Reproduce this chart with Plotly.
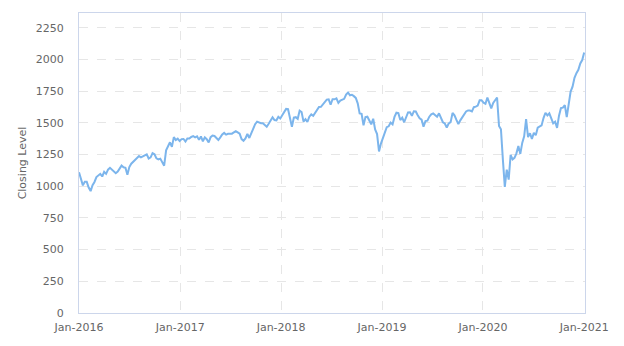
import pandas as pd
import plotly.graph_objects as go

# Weekly closing levels
values_2016 = [1110, 1046, 1007, 1035, 1035, 990, 962, 1008, 1034, 1073, 1083, 1098, 1077,
               1114, 1098, 1131, 1145, 1131, 1114, 1103, 1116, 1144, 1163, 1150, 1146, 1090,
               1151, 1178, 1194, 1208, 1219, 1238, 1228, 1238, 1242, 1252, 1219, 1228, 1261,
               1252, 1220, 1212, 1218, 1192, 1162, 1283, 1311, 1347, 1311, 1388, 1365, 1376, 1357]
values_2017 = [1372, 1373, 1353, 1377, 1377, 1389, 1395, 1386, 1394, 1366, 1393, 1355, 1386,
               1371, 1345, 1387, 1400, 1397, 1382, 1365, 1386, 1409, 1421, 1407, 1414, 1415,
               1415, 1425, 1435, 1425, 1415, 1372, 1359, 1377, 1413, 1381, 1421, 1451, 1490,
               1510, 1502, 1498, 1498, 1486, 1470, 1493, 1519, 1544, 1522, 1520, 1548, 1535]
values_2018 = [1560, 1590, 1610, 1608, 1547, 1470, 1542, 1545, 1532, 1597, 1586, 1510, 1529,
               1507, 1549, 1567, 1556, 1578, 1606, 1626, 1627, 1648, 1672, 1684, 1686, 1643,
               1687, 1686, 1693, 1658, 1676, 1684, 1690, 1724, 1740, 1718, 1722, 1711, 1697,
               1654, 1575, 1571, 1481, 1546, 1549, 1519, 1488, 1533, 1448, 1412, 1275, 1337]
values_2019 = [1380, 1433, 1466, 1473, 1502, 1488, 1547, 1580, 1577, 1522, 1541, 1505, 1540,
               1582, 1583, 1556, 1592, 1590, 1560, 1536, 1525, 1470, 1514, 1517, 1549, 1567,
               1575, 1558, 1549, 1575, 1533, 1505, 1495, 1462, 1495, 1506, 1578, 1560, 1523,
               1490, 1520, 1542, 1558, 1590, 1598, 1597, 1590, 1624, 1628, 1636, 1678, 1678]
values_2020 = [1660, 1651, 1700, 1661, 1614, 1657, 1680, 1700, 1476, 1450, 1210, 995, 1131,
               1052, 1247, 1212, 1224, 1260, 1317, 1255, 1342, 1394, 1530, 1388, 1418, 1373,
               1421, 1403, 1462, 1470, 1480, 1538, 1580, 1559, 1575, 1536, 1497, 1509, 1460,
               1557, 1617, 1620, 1640, 1545, 1645, 1747, 1786, 1855, 1892, 1919, 1969, 1996,
               2055]

closing = values_2016 + values_2017 + values_2018 + values_2019 + values_2020
dates = pd.date_range(start="2016-01-01", periods=len(closing), freq="7D")

y_ticks = [0, 250, 500, 750, 1000, 1250, 1500, 1750, 2000, 2250]
x_ticks = ["2016-01-01", "2017-01-01", "2018-01-01", "2019-01-01", "2020-01-01", "2021-01-01"]
x_tick_labels = ["Jan-2016", "Jan-2017", "Jan-2018", "Jan-2019", "Jan-2020", "Jan-2021"]

fig = go.Figure(go.Scatter(
    x=dates, y=closing, mode="lines",
    line=dict(color="#7cb5ec", width=2),
    hoverinfo="x+y",
))

font_family = "DejaVu Sans"
fig.update_layout(
    width=624, height=346,
    margin=dict(l=79, r=39, t=12, b=32),
    paper_bgcolor="white", plot_bgcolor="white",
    showlegend=False,
    font=dict(family=font_family, size=11, color="#666666"),
)
fig.update_xaxes(
    range=["2016-01-01", "2021-01-04"],
    tickmode="array", tickvals=x_ticks, ticktext=x_tick_labels,
    showgrid=True, gridcolor="#e6e6e6", griddash="dash", gridwidth=1,
    showline=True, linecolor="#ccd6eb", linewidth=1, mirror=True,
    ticks="", ticklabelstandoff=4,
    tickfont=dict(family=font_family, size=11, color="#666666"),
    zeroline=False,
)
fig.update_yaxes(
    range=[0, 2367],
    tickmode="array", tickvals=y_ticks,
    showgrid=True, gridcolor="#e6e6e6", griddash="dash", gridwidth=1,
    showline=True, linecolor="#ccd6eb", linewidth=1, mirror=True,
    ticks="", ticklabelstandoff=12,
    tickfont=dict(family=font_family, size=11, color="#666666"),
    title=dict(text="Closing Level", font=dict(family=font_family, size=11, color="#666666"), standoff=6),
    zeroline=False,
)

fig.write_html("out.html")
